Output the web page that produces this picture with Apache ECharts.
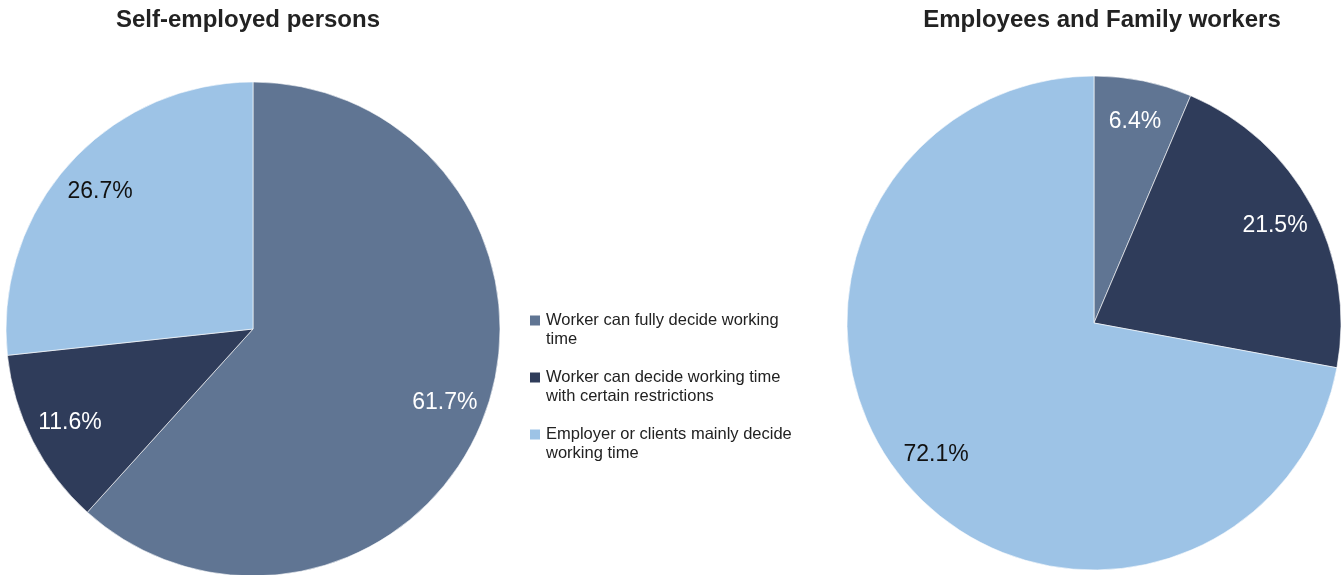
<!DOCTYPE html>
<html>
<head>
<meta charset="utf-8">
<script src="https://cdn.jsdelivr.net/npm/echarts@6/dist/echarts.min.js"></script>
<style>
    html, body {margin:0;padding:0;background:#ffffff;}
    #chart {width:1344px;height:575px;}
</style>
</head>
<body>
<div id="chart"></div>
<script>
    // categories and values
    var categories = [
        'Worker can fully decide working time',
        'Worker can decide working time with certain restrictions',
        'Employer or clients mainly decide working time'
    ];
    // legend text as it wraps in the original
    var legendText = [
        'Worker can fully decide working\ntime',
        'Worker can decide working time\nwith certain restrictions',
        'Employer or clients mainly decide\nworking time'
    ];
    var selfEmployed = [61.7, 11.6, 26.7];
    var employees = [6.4, 21.5, 72.1];
    var titles = ['Self-employed persons', 'Employees and Family workers'];

    var colors = ['#607593', '#2f3c5a', '#9dc3e6'];
    var labelColors = ['#ffffff', '#ffffff', '#111111'];
    var font = '"Liberation Sans", Arial, sans-serif';

    var chart = echarts.init(document.getElementById('chart'));

    function pieData(values) {
        return categories.map(function (name, i) {
            return {name: name, value: values[i]};
        });
    }
    function labelData(values) {
        return categories.map(function (name, i) {
            return {name: name, value: values[i], label: {color: labelColors[i]}};
        });
    }

    // one visible pie plus a transparent ring that only carries the labels
    function pieSeries(values, center) {
        return [{
            type: 'pie',
            center: center,
            radius: 247,
            startAngle: 90,
            data: pieData(values),
            label: {show: false},
            labelLine: {show: false},
            itemStyle: {borderColor: '#ffffff', borderWidth: 0.6},
            emphasis: {disabled: true},
            silent: true
        }, {
            type: 'pie',
            center: center,
            radius: [158, 247],
            startAngle: 90,
            data: labelData(values),
            itemStyle: {color: 'rgba(0,0,0,0)'},
            label: {
                show: true,
                position: 'inside',
                formatter: function (p) { return p.value.toFixed(1) + '%'; },
                fontFamily: font,
                fontSize: 23
            },
            labelLine: {show: false},
            emphasis: {disabled: true},
            silent: true
        }];
    }

    var option = {
        animation: false,
        color: colors,
        title: [{
            text: titles[0],
            left: 243,
            top: 3,
            textAlign: 'center',
            textStyle: {fontFamily: font, fontSize: 24, fontWeight: 'bold', color: '#222222'}
        }, {
            text: titles[1],
            left: 1097,
            top: 3,
            textAlign: 'center',
            textStyle: {fontFamily: font, fontSize: 24, fontWeight: 'bold', color: '#222222'}
        }],
        legend: {
            orient: 'vertical',
            left: 528,
            top: 292,
            padding: 0,
            itemGap: 0,
            itemWidth: 12,
            itemHeight: 12,
            icon: 'rect',
            data: categories,
            // leading blank line keeps the marker level with the first text line
            formatter: function (name) {
                return '\n' + legendText[categories.indexOf(name)];
            },
            textStyle: {
                fontFamily: font,
                fontSize: 16.5,
                lineHeight: 19,
                color: '#222222'
            }
        },
        series: pieSeries(selfEmployed, [253, 329]).concat(pieSeries(employees, [1094, 323]))
    };

    chart.setOption(option);
</script>
</body>
</html>
